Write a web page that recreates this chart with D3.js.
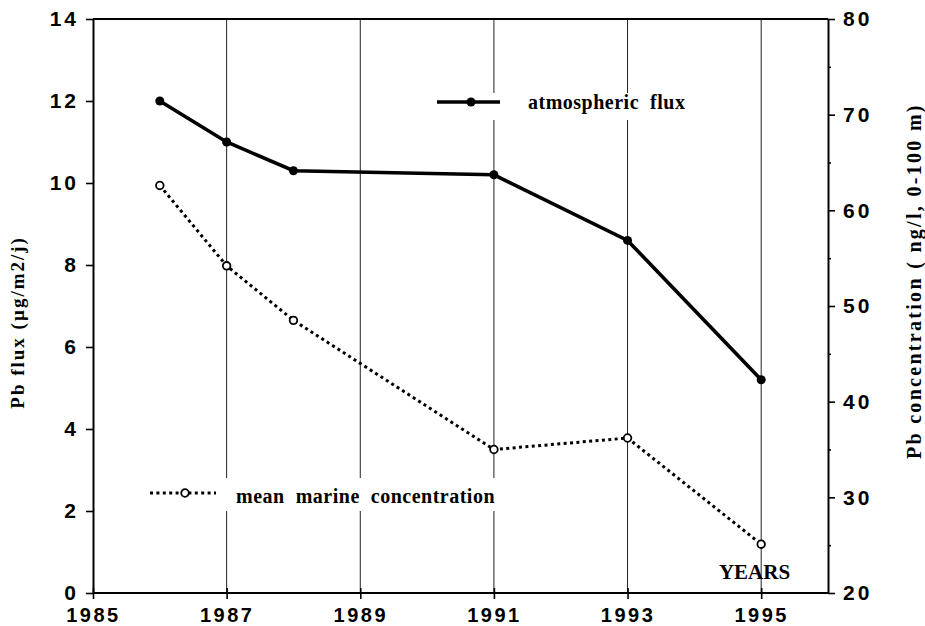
<!DOCTYPE html>
<html>
<head>
<meta charset="utf-8">
<script src="https://cdn.jsdelivr.net/npm/d3@7"></script>
<style>
	body { margin: 0; background: #fff; }
	svg { display: block; }
	.axis path, .axis line { stroke: #000; }
	.axis path { stroke-width: 2; }
	.axis line { stroke-width: 1.6; }
	.axis text { font-family: "Liberation Sans", Arial, sans-serif; font-weight: bold; fill: #000; }
	.serif { font-family: "Liberation Serif", "Times New Roman", serif; font-weight: bold; fill: #000; }
</style>
</head>
<body>
<div id="chart"></div>
<script>
const years = [1986, 1987, 1988, 1991, 1993, 1995];
const fluxValues = [12.0, 11.0, 10.3, 10.2, 8.6, 5.2];
const concentrationValues = [62.6, 54.2, 48.5, 35.0, 36.2, 25.1];

const yearTicks = [1985, 1987, 1989, 1991, 1993, 1995];
const gridYears = [1987, 1989, 1991, 1993, 1995];
const fluxTicks = [0, 2, 4, 6, 8, 10, 12, 14];
const concTicks = [20, 30, 40, 50, 60, 70, 80];
const concMinorTicks = [25, 35, 45, 55, 65, 75];

const width = 925, height = 626;
const margin = {top: 19, right: 97, bottom: 33, left: 93};

const svg = d3.select('#chart').append('svg')
	.attr('width', width)
	.attr('height', height);

const x = d3.scaleLinear()
	.domain([1985, 1996])
	.range([margin.left, width - margin.right]);

const yFlux = d3.scaleLinear()
	.domain([0, 14])
	.range([height - margin.bottom, margin.top]);

const yConc = d3.scaleLinear()
	.domain([20, 80])
	.range([height - margin.bottom, margin.top]);

const flux = years.map((year, i) => ({year, value: fluxValues[i]}));
const conc = years.map((year, i) => ({year, value: concentrationValues[i]}));

// vertical grid lines
svg.append('g').selectAll('line')
	.data(gridYears)
	.join('line')
	.attr('x1', d => x(d)).attr('x2', d => x(d))
	.attr('y1', margin.top).attr('y2', height - margin.bottom)
	.attr('stroke', '#222')
	.attr('stroke-width', 1);

// white boxes behind the legends cut the grid lines
svg.append('rect').attr('x', 433).attr('y', 93).attr('width', 262).attr('height', 27).attr('fill', '#fff');
svg.append('rect').attr('x', 146).attr('y', 478).attr('width', 352).attr('height', 33).attr('fill', '#fff');

// top frame line
svg.append('line')
	.attr('x1', x(1985)).attr('x2', x(1996))
	.attr('y1', yFlux(14)).attr('y2', yFlux(14))
	.attr('stroke', '#000').attr('stroke-width', 2);

// axes
svg.append('g').attr('class', 'axis')
	.attr('transform', `translate(${x(1985)}, 0)`)
	.call(d3.axisLeft(yFlux).tickValues(fluxTicks).tickSize(7).tickSizeOuter(0).tickPadding(7))
	.call(g => g.selectAll('text').attr('font-size', 21).attr('letter-spacing', 3));

svg.append('g').attr('class', 'axis')
	.attr('transform', `translate(${x(1996)}, 0)`)
	.call(d3.axisRight(yConc).tickValues(concTicks).tickSize(7).tickSizeOuter(0).tickPadding(8))
	.call(g => g.selectAll('text').attr('font-size', 21).attr('letter-spacing', 3));

svg.append('g').attr('class', 'axis')
	.attr('transform', `translate(${x(1996)}, 0)`)
	.call(d3.axisRight(yConc).tickValues(concMinorTicks).tickSize(3).tickSizeOuter(0).tickFormat(''))
	.call(g => g.select('.domain').remove());

svg.append('g').attr('class', 'axis')
	.attr('transform', `translate(0, ${yFlux(0)})`)
	.call(d3.axisBottom(x).tickValues(yearTicks).tickFormat(d3.format('d')).tickSizeOuter(0))
	.call(g => g.select('.domain').attr('d', `M${x(1985)},0H${x(1996)}`))
	.call(g => g.selectAll('.tick line').attr('y1', -5).attr('y2', 6))
	.call(g => g.selectAll('text').attr('y', 29).attr('dy', null)
		.attr('font-size', 20).attr('letter-spacing', 2.5));

// axis titles
svg.append('text').attr('class', 'serif')
	.attr('transform', `translate(24, ${yFlux(6.6)}) rotate(-90)`)
	.attr('text-anchor', 'middle')
	.attr('font-size', 19)
	.attr('letter-spacing', 2)
	.text('Pb flux (µg/m2/j)');

svg.append('text').attr('class', 'serif')
	.attr('transform', `translate(921, ${yConc(52.6)}) rotate(-90)`)
	.attr('text-anchor', 'middle')
	.attr('font-size', 20)
	.attr('letter-spacing', 2.3)
	.text('Pb concentration ( ng/l, 0-100 m)');

svg.append('text').attr('class', 'serif')
	.attr('x', x(1994.9)).attr('y', 579)
	.attr('text-anchor', 'middle')
	.attr('font-size', 21)
	.text('YEARS');

// series
const lineFlux = d3.line().x(d => x(d.year)).y(d => yFlux(d.value));
const lineConc = d3.line().x(d => x(d.year)).y(d => yConc(d.value));

svg.append('path')
	.attr('d', lineConc(conc))
	.attr('fill', 'none')
	.attr('stroke', '#000')
	.attr('stroke-width', 3)
	.attr('stroke-dasharray', '3,3.4');

svg.append('path')
	.attr('d', lineFlux(flux))
	.attr('fill', 'none')
	.attr('stroke', '#000')
	.attr('stroke-width', 3.6);

svg.append('g').selectAll('circle')
	.data(flux)
	.join('circle')
	.attr('cx', d => x(d.year))
	.attr('cy', d => yFlux(d.value))
	.attr('r', 4.5)
	.attr('fill', '#000');

svg.append('g').selectAll('circle')
	.data(conc)
	.join('circle')
	.attr('cx', d => x(d.year))
	.attr('cy', d => yConc(d.value))
	.attr('r', 3.8)
	.attr('fill', '#fff')
	.attr('stroke', '#000')
	.attr('stroke-width', 1.8);

// legends
const legFlux = svg.append('g').attr('transform', 'translate(437, 102)');
legFlux.append('line').attr('x1', 0).attr('x2', 63).attr('stroke', '#000').attr('stroke-width', 3.4);
legFlux.append('circle').attr('cx', 34).attr('r', 4.5).attr('fill', '#000');
legFlux.append('text').attr('class', 'serif')
	.attr('x', 91).attr('y', 7)
	.attr('font-size', 20)
	.attr('letter-spacing', 0.5)
	.attr('xml:space', 'preserve')
	.text('atmospheric  flux');

const legConc = svg.append('g').attr('transform', 'translate(150, 493)');
legConc.append('line').attr('x1', 0).attr('x2', 66)
	.attr('stroke', '#000').attr('stroke-width', 3).attr('stroke-dasharray', '3,3.4');
legConc.append('circle').attr('cx', 35).attr('r', 3.8)
	.attr('fill', '#fff').attr('stroke', '#000').attr('stroke-width', 1.8);
legConc.append('text').attr('class', 'serif')
	.attr('x', 86).attr('y', 10)
	.attr('font-size', 20)
	.attr('letter-spacing', 0.5)
	.attr('xml:space', 'preserve')
	.text('mean  marine  concentration');
</script>
</body>
</html>
